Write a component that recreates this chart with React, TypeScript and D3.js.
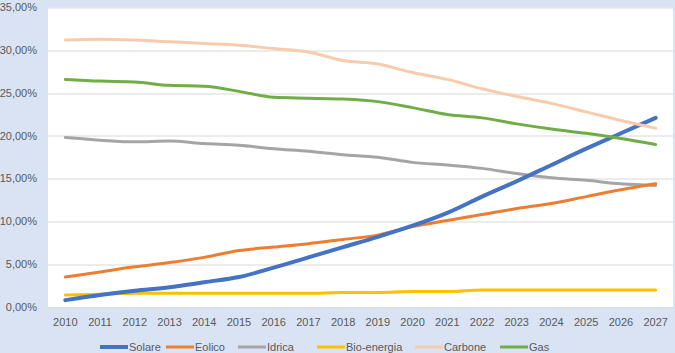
import React, { useEffect, useRef } from 'react';
import * as d3 from 'd3';

const years = ['2010', '2011', '2012', '2013', '2014', '2015', '2016', '2017', '2018', '2019', '2020', '2021', '2022', '2023', '2024', '2025', '2026', '2027'];

const solare = [0.8, 1.4, 1.9, 2.3, 2.9, 3.5, 4.6, 5.8, 7.0, 8.2, 9.5, 11.0, 12.9, 14.7, 16.6, 18.5, 20.3, 22.1];
const eolico = [3.5, 4.1, 4.7, 5.2, 5.8, 6.6, 7.0, 7.4, 7.9, 8.4, 9.4, 10.1, 10.8, 11.5, 12.1, 12.9, 13.7, 14.4];
const idrica = [19.8, 19.5, 19.3, 19.4, 19.1, 18.9, 18.5, 18.2, 17.8, 17.5, 16.9, 16.6, 16.2, 15.6, 15.1, 14.8, 14.4, 14.2];
const bioEnergia = [1.4, 1.5, 1.6, 1.6, 1.6, 1.6, 1.6, 1.6, 1.7, 1.7, 1.8, 1.8, 2.0, 2.0, 2.0, 2.0, 2.0, 2.0];
const carbone = [31.2, 31.3, 31.2, 31.0, 30.8, 30.6, 30.2, 29.8, 28.8, 28.4, 27.4, 26.6, 25.5, 24.6, 23.8, 22.8, 21.8, 20.9];
const gas = [26.6, 26.4, 26.3, 25.9, 25.8, 25.2, 24.5, 24.4, 24.3, 24.0, 23.3, 22.5, 22.1, 21.4, 20.8, 20.3, 19.7, 19.0];

const seriesNames = ['Solare', 'Eolico', 'Idrica', 'Bio-energia', 'Carbone', 'Gas'];
const seriesValues = [solare, eolico, idrica, bioEnergia, carbone, gas];
const colors = ['#4472c4', '#ed7d31', '#a5a5a5', '#ffc000', '#f8cbad', '#70ad47'];

const yTicks = [0, 5, 10, 15, 20, 25, 30, 35];

const W = 675;
const H = 353;

const App: React.FC = () => {
  const svgRef = useRef<SVGSVGElement | null>(null);

  useEffect(() => {
    if (!svgRef.current) return;
    const svg = d3.select(svgRef.current);
    svg.selectAll('*').remove();

    const font = '"Liberation Sans", Arial, sans-serif';
    const textColor = '#595959';
    const margin = { top: 7.5, right: 2, bottom: 46, left: 48 };
    const innerW = W - margin.left - margin.right;
    const innerH = H - margin.top - margin.bottom;

    // chart background
    svg.append('rect').attr('width', W).attr('height', H).attr('fill', '#dae3f3');

    const g = svg.append('g').attr('transform', `translate(${margin.left},${margin.top})`);
    g.append('rect').attr('width', innerW).attr('height', innerH).attr('fill', '#ffffff');

    const x = d3.scaleBand().domain(years).range([0, innerW]);
    const y = d3.scaleLinear().domain([0, 35]).range([innerH, 0]);
    const cx = (yr: string) => (x(yr) || 0) + x.bandwidth() / 2;

    // gridlines
    g.selectAll('.grid')
      .data(yTicks)
      .enter().append('line')
        .attr('x1', 0)
        .attr('x2', innerW)
        .attr('y1', d => Math.round(y(d)) + 0.5)
        .attr('y2', d => Math.round(y(d)) + 0.5)
        .attr('stroke', '#d9d9d9')
        .attr('stroke-width', 1);

    // y labels
    const fmt = (v: number) => v.toFixed(2).replace('.', ',') + '%';
    g.selectAll('.ylab')
      .data(yTicks)
      .enter().append('text')
        .attr('x', -11)
        .attr('y', d => y(d))
        .attr('dy', '0.35em')
        .attr('text-anchor', 'end')
        .attr('font-family', font)
        .attr('font-size', 11)
        .attr('fill', textColor)
        .text(d => fmt(d));

    // x labels
    g.selectAll('.xlab')
      .data(years)
      .enter().append('text')
        .attr('x', d => cx(d))
        .attr('y', innerH + 19)
        .attr('text-anchor', 'middle')
        .attr('font-family', font)
        .attr('font-size', 11)
        .attr('fill', textColor)
        .text(d => d);

    // lines
    const line = d3.line<number>()
      .x((_, i) => cx(years[i]))
      .y(d => y(d))
      .curve(d3.curveMonotoneX);

    const drawOrder = [2, 3, 1, 0, 4, 5];
    drawOrder.forEach(i => {
      g.append('path')
        .datum(seriesValues[i])
        .attr('d', line)
        .attr('fill', 'none')
        .attr('stroke', colors[i])
        .attr('stroke-width', i === 0 ? 4 : 3)
        .attr('stroke-linecap', 'round')
        .attr('stroke-linejoin', 'round');
    });

    // legend
    const legendX = [100, 166, 238, 317, 415, 500];
    const legendY = 347;
    seriesNames.forEach((name, i) => {
      const lg = svg.append('g').attr('transform', `translate(${legendX[i]},${legendY})`);
      lg.append('line')
        .attr('x1', 0)
        .attr('x2', 28)
        .attr('y1', 0)
        .attr('y2', 0)
        .attr('stroke', colors[i])
        .attr('stroke-width', i === 0 ? 4 : 3);
      lg.append('text')
        .attr('x', 29)
        .attr('y', 0)
        .attr('dy', '0.35em')
        .attr('font-family', font)
        .attr('font-size', 11)
        .attr('fill', textColor)
        .text(name);
    });
  }, []);

  return (
    <svg
      ref={svgRef}
      width={W}
      height={H}
      style={{ position: 'absolute', left: 0, top: 0, display: 'block' }}
    />
  );
};

export default App;
